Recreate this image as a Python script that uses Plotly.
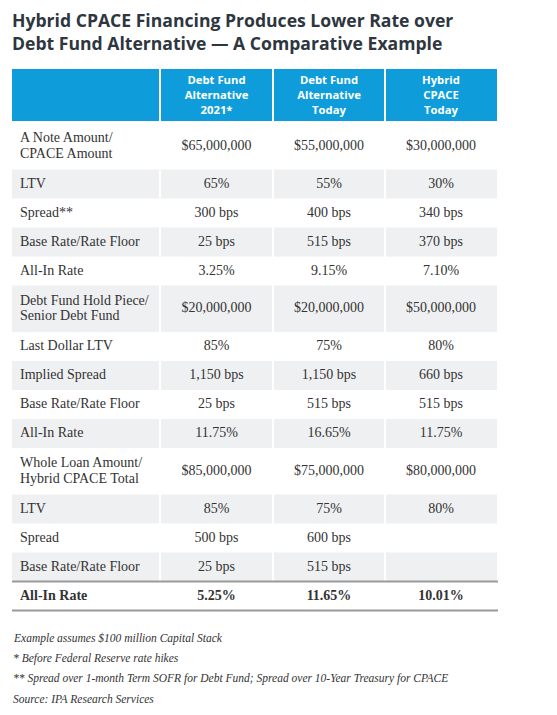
import plotly.graph_objects as go

title_lines = ["Hybrid CPACE Financing Produces Lower Rate over",
               "Debt Fund Alternative \u2014 A Comparative Example"]

headers = ["", "Debt Fund<br>Alternative<br>2021*", "Debt Fund<br>Alternative<br>Today", "Hybrid<br>CPACE<br>Today"]

row_labels = ["A Note Amount/<br>CPACE Amount", "LTV", "Spread**", "Base Rate/Rate Floor", "All-In Rate",
              "Debt Fund Hold Piece/<br>Senior Debt Fund", "Last Dollar LTV", "Implied Spread",
              "Base Rate/Rate Floor", "All-In Rate",
              "Whole Loan Amount/<br>Hybrid CPACE Total", "LTV", "Spread", "Base Rate/Rate Floor", "All-In Rate"]

debt_fund_2021 = ["$65,000,000", "65%", "300 bps", "25 bps", "3.25%",
                  "$20,000,000", "85%", "1,150 bps", "25 bps", "11.75%",
                  "$85,000,000", "85%", "500 bps", "25 bps", "5.25%"]
debt_fund_today = ["$55,000,000", "55%", "400 bps", "515 bps", "9.15%",
                   "$20,000,000", "75%", "1,150 bps", "515 bps", "16.65%",
                   "$75,000,000", "75%", "600 bps", "515 bps", "11.65%"]
hybrid_cpace_today = ["$30,000,000", "30%", "340 bps", "370 bps", "7.10%",
                      "$50,000,000", "80%", "660 bps", "515 bps", "11.75%",
                      "$80,000,000", "80%", "", "", "10.01%"]

footnotes = ["Example assumes $100 million Capital Stack",
             "* Before Federal Reserve rate hikes",
             "** Spread over 1-month Term SOFR for Debt Fund; Spread over 10-Year Treasury for CPACE",
             "Source: IPA Research Services"]

# ---- style / layout constants (pixel units) ----
W, H = 557, 715
BLUE = "#0E9DDA"
GRAY = "#EFF0F2"
TEXT = "#333333"
TITLE = "#2E3640"
TABLE_LEFT = 12
COL_WIDTHS = [148, 113, 112, 112]
HEADER_TOP, HEADER_H = 69, 54
SINGLE_H, DOUBLE_H = 29, 46.5
GAP = 2
SERIF = "Liberation Serif"
SANS = "Open Sans"

value_cols = [debt_fund_2021, debt_fund_today, hybrid_cpace_today]
n = len(row_labels)

col_edges = [TABLE_LEFT]
for w in COL_WIDTHS:
    col_edges.append(col_edges[-1] + w)
col_centers = [(col_edges[i] + col_edges[i + 1]) / 2 for i in range(4)]

row_heights = [DOUBLE_H if "<br>" in lab else SINGLE_H for lab in row_labels]
row_tops = [HEADER_TOP + HEADER_H]
for h in row_heights:
    row_tops.append(row_tops[-1] + h)
row_mid = [(row_tops[i] + row_tops[i + 1]) / 2 for i in range(n)]

shapes = []
# header cells
for c in range(4):
    shapes.append(dict(type="rect", xref="x", yref="y",
                       x0=col_edges[c] + (GAP / 2 if c > 0 else 0),
                       x1=col_edges[c + 1] - (GAP / 2 if c < 3 else 0),
                       y0=HEADER_TOP, y1=HEADER_TOP + HEADER_H - GAP,
                       fillcolor=BLUE, line=dict(width=0), layer="below"))
# gray body rows
for i in range(n):
    if i % 2 == 1:
        for c in range(4):
            shapes.append(dict(type="rect", xref="x", yref="y",
                               x0=col_edges[c] + (GAP / 2 if c > 0 else 0),
                               x1=col_edges[c + 1] - (GAP / 2 if c < 3 else 0),
                               y0=row_tops[i], y1=row_tops[i + 1],
                               fillcolor=GRAY, line=dict(width=0), layer="below"))
# rules around final bold row
for yy in (row_tops[n - 1], row_tops[n]):
    shapes.append(dict(type="line", xref="x", yref="y", x0=col_edges[0], x1=col_edges[-1] + 1,
                       y0=yy, y1=yy, line=dict(color="#9A9A9A", width=2)))

fig = go.Figure()

# header text
fig.add_trace(go.Scatter(
    x=col_centers[1:], y=[HEADER_TOP + (HEADER_H - GAP) / 2 + 1] * 3, mode="text",
    text=["<b>%s</b>" % h for h in headers[1:]], textposition="middle center",
    textfont=dict(family=SANS, size=11.3, color="white"), hoverinfo="skip", showlegend=False))

# row labels (split into lines for tighter line spacing)
lab_x, lab_y, lab_t = [], [], []
LINE_GAP = 15.5
for i, lab in enumerate(row_labels):
    parts = lab.split("<br>")
    k = len(parts)
    for j, p in enumerate(parts):
        lab_x.append(col_edges[0] + 8)
        lab_y.append(row_mid[i] + (j - (k - 1) / 2) * LINE_GAP)
        lab_t.append("<b>%s</b>" % p if i == n - 1 else p)
fig.add_trace(go.Scatter(
    x=lab_x, y=lab_y, mode="text", text=lab_t, textposition="middle right",
    textfont=dict(family=SERIF, size=14, color=TEXT), hoverinfo="skip", showlegend=False))

# values
for c, col in enumerate(value_cols):
    fig.add_trace(go.Scatter(
        x=[col_centers[c + 1]] * n, y=row_mid, mode="text",
        text=[("<b>%s</b>" % v if i == n - 1 and v else v) for i, v in enumerate(col)],
        textposition="middle center",
        textfont=dict(family=SERIF, size=14, color=TEXT), hoverinfo="skip", showlegend=False))

# title
fig.add_annotation(text="<br>".join("<b>%s</b>" % t for t in title_lines), xref="x", yref="y",
                   x=TABLE_LEFT - 1, y=31, xanchor="left", yanchor="middle", align="left",
                   showarrow=False, borderpad=0,
                   font=dict(family=SANS, size=17.6, color=TITLE))

# footnotes
for j, t in enumerate(footnotes):
    fig.add_annotation(text="<i>%s</i>" % t, xref="x", yref="y",
                       x=TABLE_LEFT - 1, y=638 + 20.2 * j,
                       xanchor="left", yanchor="middle", showarrow=False,
                       font=dict(family=SERIF, size=11.5, color=TEXT))

fig.update_layout(width=W, height=H, margin=dict(l=0, r=0, t=0, b=0),
                  paper_bgcolor="white", plot_bgcolor="white", shapes=shapes,
                  xaxis=dict(range=[0, W], visible=False, fixedrange=True),
                  yaxis=dict(range=[H, 0], visible=False, fixedrange=True))
fig.write_html("out.html", config={"displayModeBar": False},
               post_script="document.body.style.margin='0';")
